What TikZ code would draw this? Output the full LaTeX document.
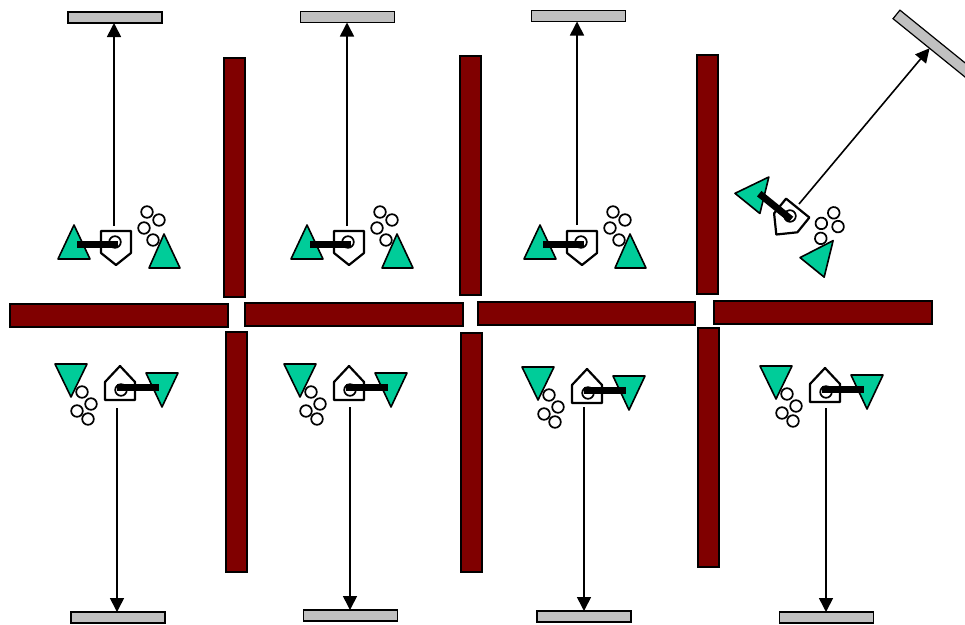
\documentclass[tikz,border=0pt]{standalone}
\usepackage{xcolor}
\usetikzlibrary{arrows.meta, positioning, calc}
\definecolor{wallred}{RGB}{128, 0, 0}
\definecolor{mirrorgrey}{RGB}{192, 192, 192}
\definecolor{prismgreen}{RGB}{0, 204, 153}
\tikzset{
  wall/.style={draw=black, fill=wallred, line width=1.2pt},
  mirror/.style={draw=black, fill=mirrorgrey, line width=1.2pt, minimum width=94pt, minimum height=11pt, inner sep=0pt, outer sep=0pt},
  prism/.style={draw=black, fill=prismgreen, line width=1.6pt, line join=round},
  hull/.style={draw=black, line width=2.2pt, line join=round},
  ball/.style={draw=black, line width=1.7pt},
  arm/.style={draw=black, line width=7pt},
  beam/.style={draw=black, line width=1.6pt, -{Triangle[length=14pt, width=14pt]}},
}
% agent above the horizontal walls, drawn round its small circle
\newcommand{\upperagent}[4]{
  \begin{scope}[shift={(#1,#2)}, rotate=#3]
    \draw[prism] (-41,-17) -- (-57,17) -- (-25,17) -- cycle;
    \foreach \bx/\by in {32/-30, 44/-22, 29/-14, 38/-2}
      \draw[ball] (\bx,\by) circle (5.8);
    \draw[prism] (49,-8) -- (34,26) -- (65,26) -- cycle;
    \draw[hull] (-14,-11) -- (16,-11) -- (16,#4) -- (1,23) -- (-14,#4) -- cycle;
    \draw[ball] (0,0) circle (5.8);
    \draw[arm] (-38,2) -- (3,2);
  \end{scope}
}
% agent below the horizontal walls, drawn round its small circle
\newcommand{\loweragent}[2]{
  \begin{scope}[shift={(#1,#2)}]
    \draw[prism] (-66,-26) -- (-34,-26) -- (-50,7) -- cycle;
    \foreach \bx/\by in {-39/2, -30/14, -44/21, -33/29}
      \draw[ball] (\bx,\by) circle (5.8);
    \draw[prism] (25,-17) -- (57,-17) -- (41,17) -- cycle;
    \draw[hull] (-16,10) -- (14,10) -- (14,-8) -- (-1,-24) -- (-16,-8) -- cycle;
    \draw[ball] (0,0) circle (5.8);
    \draw[arm] (-4,-3) -- (38,-3);
  \end{scope}
}

\begin{document}
\begin{tikzpicture}[x=1pt, y=-1pt]
  \useasboundingbox (0,0) rectangle (965,624);
  \clip (0,0) rectangle (965,624);
  % Walls
  \draw[wall] (224,58) rectangle (245,297);
  \draw[wall] (460,56) rectangle (481,295);
  \draw[wall] (697,55) rectangle (718,294);
  \draw[wall] (226,332) rectangle (247,572);
  \draw[wall] (461,333) rectangle (482,572);
  \draw[wall] (698,328) rectangle (719,567);
  \draw[wall] (10,304) rectangle (228,327);
  \draw[wall] (245,303) rectangle (463,326);
  \draw[wall] (478,302) rectangle (695,325);
  \draw[wall] (714,301) rectangle (932,324);
  % Agents
  \upperagent{115}{242}{0}{11}
  \upperagent{348}{242}{0}{11}
  \upperagent{581}{242}{0}{11}
  \upperagent{790}{216}{-39}{8}
  \loweragent{121}{390}
  \loweragent{350}{390}
  \loweragent{588}{393}
  \loweragent{826}{392}
  % Mirrors
  \node[mirror] (mirrorA) at (115,17.5) {};
  \node[mirror] (mirrorB) at (347.5,17) {};
  \node[mirror] (mirrorC) at (578.5,16) {};
  \node[mirror, rotate=-39] (mirrorD) at (933,44) {};
  \node[mirror] (mirrorE) at (118,617.5) {};
  \node[mirror] (mirrorF) at (350.5,615.5) {};
  \node[mirror] (mirrorG) at (584,616.5) {};
  \node[mirror] (mirrorH) at (826.5,617.5) {};
  % Beams
  \coordinate (startA) at (114,226);
  \coordinate (startB) at (347,226);
  \coordinate (startC) at (577,225);
  \coordinate (startD) at (799,204);
  \coordinate (startE) at (117,408);
  \coordinate (startF) at (350,407);
  \coordinate (startG) at (584,407);
  \coordinate (startH) at (826,408);
  \draw[beam] (startA) -- (startA |- mirrorA.south);
  \draw[beam] (startB) -- (startB |- mirrorB.south);
  \draw[beam] (startC) -- (startC |- mirrorC.south);
  \draw[beam] (startD) -- (mirrorD.south);
  \draw[beam] (startE) -- (startE |- mirrorE.north);
  \draw[beam] (startF) -- (startF |- mirrorF.north);
  \draw[beam] (startG) -- (startG |- mirrorG.north);
  \draw[beam] (startH) -- (startH |- mirrorH.north);
\end{tikzpicture}
\end{document}
